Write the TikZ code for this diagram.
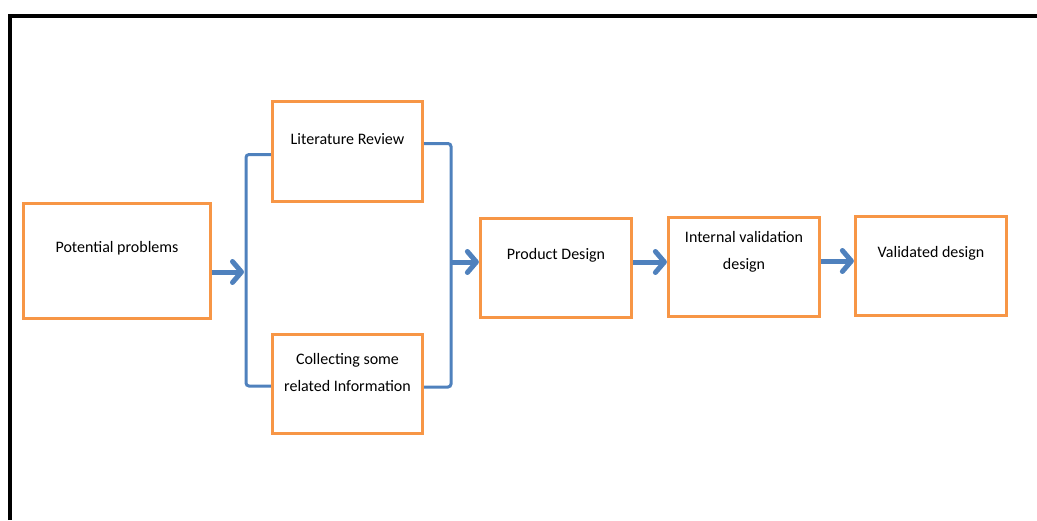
\documentclass[tikz,border=0pt]{standalone}
\usepackage{fontspec}
\setmainfont{Carlito}
\usetikzlibrary{arrows.meta, positioning, calc}
\definecolor{boxorange}{RGB}{247,150,70}
\definecolor{flowblue}{RGB}{79,129,189}

\begin{document}
\begin{tikzpicture}[x=1pt, y=-1pt,
  stage/.style={draw=boxorange, line width=3.2pt, minimum width=151pt, minimum height=99pt, inner sep=0pt},
  lbl/.style={font=\fontsize{16}{27}\selectfont, align=center},
  link/.style={draw=flowblue, line width=3pt, rounded corners=3pt},
  flow/.style={flowblue, line width=5pt, -{Straight Barb[length=9pt, width=21pt, round]}}]
  \useasboundingbox (0,0) rectangle (1037,520);
  % outer frame
  \draw[line width=4pt] (9.5,520) -- (9.5,16) -- (1037,16);
  % stages
  \node[stage, minimum width=187pt, minimum height=115pt] (prob) at (117,261) {};
  \node[stage, minimum width=150pt, minimum height=100pt] (lit) at (347.5,151.5) {};
  \node[stage, minimum width=150pt] (info) at (347.5,384) {};
  \node[stage] (prod) at (556,268) {};
  \node[stage] (intv) at (744,267) {};
  \node[stage] (valid) at (931,266) {};
  % texts sit above the box centres
  \node[lbl] (prob-txt) at ([yshift=13pt]prob.center) {Potential problems};
  \node[lbl] (lit-txt) at ([yshift=12pt]lit.center) {Literature Review};
  \node[lbl] (info-txt) at ([yshift=12pt]info.center) {Collecting some\\related Information};
  \node[lbl] (prod-txt) at ([yshift=13pt]prod.center) {Product Design};
  \node[lbl] (intv-txt) at ([yshift=15pt]intv.center) {Internal validation\\design};
  \node[lbl] (valid-txt) at ([yshift=13pt]valid.center) {Validated design};
  % brackets
  \coordinate (jl) at (246,272);
  \coordinate (jr) at (451,262);
  \draw[link] ([yshift=-3pt]lit.west) -| (jl) |- ([yshift=-2pt]info.west);
  \draw[link] ([yshift=8pt]lit.east) -| (jr) |- ([yshift=-3pt]info.east);
  % arrows
  \draw[flow, shorten >=2pt] ([yshift=-11pt]prob.east) -- (jl);
  \draw[flow] (jr) -- (prod.west |- jr);
  \draw[flow] ([yshift=6pt]prod.east) -- ([yshift=6pt]prod.east -| intv.west);
  \draw[flow] ([yshift=6pt]intv.east) -- ([yshift=6pt]intv.east -| valid.west);
\end{tikzpicture}
\end{document}
